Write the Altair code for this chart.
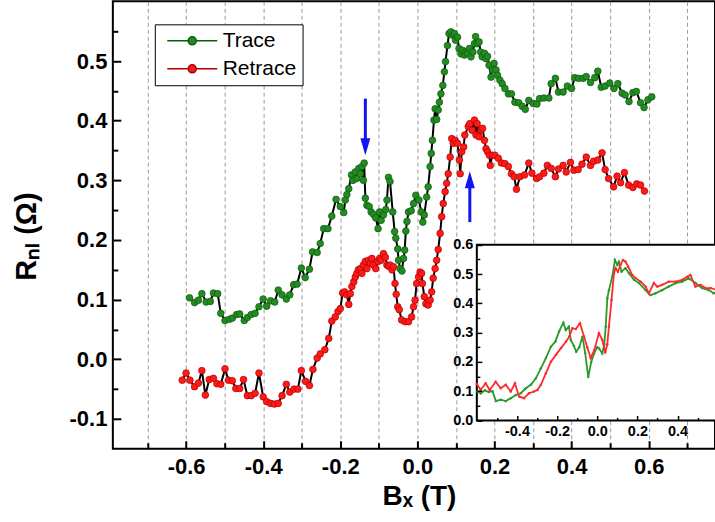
import altair as alt
import pandas as pd

# ---------------- data ----------------
series_names = ["Trace", "Retrace"]

trace_x = [-0.591, -0.578, -0.568, -0.559, -0.548, -0.537, -0.529, -0.518, -0.510, -0.499,
           -0.488, -0.480, -0.469, -0.461, -0.449, -0.441, -0.431, -0.421, -0.411, -0.400,
           -0.391, -0.381, -0.370, -0.361, -0.351, -0.340, -0.331, -0.321, -0.312, -0.301,
           -0.291, -0.280, -0.272, -0.260, -0.252, -0.243, -0.232, -0.222, -0.211, -0.200,
           -0.191, -0.187, -0.183, -0.178, -0.171, -0.167, -0.161, -0.157, -0.152, -0.148,
           -0.144, -0.140, -0.138, -0.135, -0.131, -0.125, -0.120, -0.114, -0.108, -0.102,
           -0.098, -0.094, -0.088, -0.082, -0.079, -0.075, -0.071, -0.064, -0.059, -0.056,
           -0.051, -0.049, -0.045, -0.040, -0.036, -0.033, -0.030, -0.027, -0.023, -0.016,
           -0.010, -0.004, 0.004, 0.010, 0.014, 0.018, 0.024, 0.028, 0.033, 0.036,
           0.039, 0.043, 0.046, 0.050, 0.054, 0.057, 0.061, 0.066, 0.070, 0.073,
           0.078, 0.082, 0.087, 0.092, 0.096, 0.099, 0.104, 0.108, 0.113, 0.117,
           0.122, 0.126, 0.130, 0.135, 0.139, 0.144, 0.148, 0.151, 0.155, 0.160,
           0.164, 0.168, 0.174, 0.178, 0.182, 0.186, 0.191, 0.195, 0.199, 0.204,
           0.208, 0.214, 0.220, 0.227, 0.236, 0.244, 0.253, 0.263, 0.272, 0.280,
           0.289, 0.300, 0.310, 0.317, 0.328, 0.341, 0.347, 0.358, 0.366, 0.378,
           0.389, 0.400, 0.408, 0.418, 0.430, 0.438, 0.449, 0.460, 0.468, 0.477,
           0.487, 0.499, 0.510, 0.520, 0.531, 0.539, 0.549, 0.559, 0.568, 0.579,
           0.588, 0.598, 0.608]
trace_y = [0.103, 0.095, 0.099, 0.110, 0.096, 0.097, 0.111, 0.110, 0.077, 0.065,
           0.067, 0.069, 0.075, 0.076, 0.065, 0.070, 0.075, 0.077, 0.088, 0.101,
           0.089, 0.098, 0.096, 0.116, 0.108, 0.101, 0.108, 0.125, 0.126, 0.153,
           0.137, 0.151, 0.180, 0.179, 0.194, 0.219, 0.219, 0.240, 0.268, 0.256,
           0.246, 0.267, 0.276, 0.286, 0.309, 0.300, 0.314, 0.303, 0.320, 0.311,
           0.323, 0.300, 0.329, 0.270, 0.258, 0.256, 0.247, 0.243, 0.237, 0.219,
           0.247, 0.233, 0.242, 0.251, 0.267, 0.305, 0.298, 0.247, 0.214, 0.203,
           0.185, 0.166, 0.152, 0.148, 0.169, 0.183, 0.215, 0.231, 0.247, 0.249,
           0.261, 0.275, 0.267, 0.247, 0.230, 0.242, 0.272, 0.289, 0.323, 0.345,
           0.367, 0.401, 0.420, 0.402, 0.418, 0.431, 0.445, 0.459, 0.482, 0.499,
           0.526, 0.546, 0.549, 0.543, 0.546, 0.535, 0.540, 0.521, 0.512, 0.518,
           0.510, 0.515, 0.513, 0.521, 0.507, 0.515, 0.529, 0.541, 0.529, 0.532,
           0.515, 0.507, 0.513, 0.504, 0.508, 0.493, 0.473, 0.485, 0.496, 0.485,
           0.476, 0.468, 0.462, 0.454, 0.445, 0.445, 0.431, 0.430, 0.424, 0.419,
           0.434, 0.429, 0.428, 0.437, 0.438, 0.438, 0.462, 0.471, 0.448, 0.448,
           0.458, 0.454, 0.472, 0.471, 0.471, 0.474, 0.464, 0.472, 0.483, 0.456,
           0.458, 0.463, 0.454, 0.462, 0.446, 0.443, 0.432, 0.447, 0.449, 0.430,
           0.422, 0.435, 0.440]

retrace_x = [-0.610, -0.600, -0.590, -0.578, -0.568, -0.559, -0.550, -0.540, -0.529, -0.520,
             -0.510, -0.499, -0.490, -0.480, -0.471, -0.461, -0.451, -0.441, -0.431, -0.421,
             -0.411, -0.400, -0.391, -0.381, -0.371, -0.361, -0.351, -0.340, -0.331, -0.320,
             -0.310, -0.301, -0.290, -0.280, -0.271, -0.260, -0.252, -0.240, -0.230, -0.222,
             -0.213, -0.206, -0.200, -0.194, -0.189, -0.183, -0.178, -0.174, -0.170, -0.165,
             -0.161, -0.157, -0.153, -0.148, -0.144, -0.140, -0.135, -0.131, -0.127, -0.122,
             -0.118, -0.114, -0.108, -0.102, -0.098, -0.094, -0.088, -0.083, -0.079, -0.075,
             -0.071, -0.066, -0.062, -0.058, -0.055, -0.051, -0.047, -0.041, -0.032, -0.023,
             -0.015, -0.010, -0.006, -0.002, 0.003, 0.007, 0.011, 0.013, 0.018, 0.022,
             0.028, 0.033, 0.037, 0.041, 0.046, 0.050, 0.054, 0.059, 0.063, 0.067,
             0.072, 0.076, 0.080, 0.085, 0.089, 0.093, 0.098, 0.104, 0.109, 0.111,
             0.115, 0.120, 0.123, 0.132, 0.136, 0.142, 0.148, 0.152, 0.155, 0.160,
             0.165, 0.169, 0.174, 0.178, 0.182, 0.187, 0.189, 0.194, 0.201, 0.210,
             0.218, 0.227, 0.236, 0.244, 0.251, 0.257, 0.266, 0.278, 0.289, 0.297,
             0.309, 0.317, 0.328, 0.337, 0.347, 0.358, 0.366, 0.378, 0.386, 0.397,
             0.406, 0.417, 0.427, 0.438, 0.449, 0.457, 0.468, 0.479, 0.487, 0.496,
             0.509, 0.518, 0.527, 0.537, 0.548, 0.559, 0.569, 0.579, 0.589]
retrace_y = [-0.035, -0.023, -0.035, -0.046, -0.040, -0.019, -0.060, -0.034, -0.032, -0.041,
             -0.042, -0.016, -0.035, -0.036, -0.049, -0.049, -0.034, -0.061, -0.061, -0.057,
             -0.023, -0.063, -0.071, -0.074, -0.075, -0.074, -0.061, -0.042, -0.055, -0.050,
             -0.050, -0.019, -0.037, -0.044, -0.017, 0.002, 0.009, 0.016, 0.035, 0.064,
             0.071, 0.080, 0.085, 0.111, 0.113, 0.108, 0.092, 0.110, 0.122, 0.130,
             0.138, 0.144, 0.150, 0.152, 0.144, 0.158, 0.164, 0.152, 0.166, 0.161,
             0.169, 0.158, 0.152, 0.164, 0.169, 0.166, 0.177, 0.171, 0.158, 0.156,
             0.158, 0.150, 0.155, 0.127, 0.109, 0.088, 0.083, 0.066, 0.063, 0.063,
             0.071, 0.088, 0.099, 0.127, 0.138, 0.146, 0.144, 0.127, 0.105, 0.093,
             0.091, 0.099, 0.113, 0.136, 0.152, 0.166, 0.184, 0.211, 0.239, 0.261,
             0.281, 0.295, 0.311, 0.339, 0.370, 0.362, 0.367, 0.362, 0.334, 0.311,
             0.348, 0.356, 0.376, 0.390, 0.395, 0.384, 0.401, 0.376, 0.395, 0.373,
             0.384, 0.387, 0.367, 0.353, 0.348, 0.342, 0.325, 0.342, 0.342, 0.337,
             0.329, 0.328, 0.323, 0.311, 0.306, 0.285, 0.306, 0.309, 0.329, 0.312,
             0.303, 0.306, 0.312, 0.325, 0.320, 0.306, 0.319, 0.325, 0.314, 0.330,
             0.317, 0.318, 0.327, 0.339, 0.325, 0.332, 0.334, 0.346, 0.318, 0.303,
             0.289, 0.307, 0.296, 0.313, 0.292, 0.288, 0.294, 0.292, 0.282]

inset_trace_x = [-0.597, -0.580, -0.560, -0.540, -0.522, -0.505, -0.481, -0.456, -0.431, -0.406,
                 -0.381, -0.356, -0.331, -0.306, -0.281, -0.256, -0.231, -0.209, -0.190, -0.169,
                 -0.157, -0.141, -0.132, -0.116, -0.105, -0.090, -0.074, -0.060, -0.045, -0.030,
                 -0.016, 0.000, 0.009, 0.025, 0.035, 0.042, 0.050, 0.058, 0.075, 0.088,
                 0.100, 0.108, 0.121, 0.141, 0.158, 0.183, 0.208, 0.241, 0.265, 0.290,
                 0.323, 0.356, 0.390, 0.423, 0.456, 0.489, 0.522, 0.556, 0.580, 0.600]
inset_trace_y = [0.099, 0.092, 0.103, 0.097, 0.100, 0.066, 0.071, 0.066, 0.076, 0.087,
                 0.093, 0.110, 0.122, 0.144, 0.178, 0.213, 0.252, 0.269, 0.304, 0.334,
                 0.309, 0.320, 0.275, 0.254, 0.235, 0.250, 0.286, 0.230, 0.148, 0.200,
                 0.229, 0.250, 0.246, 0.229, 0.260, 0.320, 0.417, 0.445, 0.491, 0.548,
                 0.531, 0.542, 0.508, 0.520, 0.503, 0.480, 0.469, 0.445, 0.428, 0.434,
                 0.445, 0.457, 0.469, 0.474, 0.485, 0.469, 0.452, 0.445, 0.434, 0.440]

inset_retrace_x = [-0.600, -0.581, -0.556, -0.536, -0.506, -0.481, -0.456, -0.431, -0.410, -0.390,
                   -0.365, -0.340, -0.315, -0.298, -0.281, -0.256, -0.231, -0.206, -0.181, -0.156,
                   -0.139, -0.124, -0.107, -0.086, -0.066, -0.050, -0.033, -0.015, 0.008, 0.025,
                   0.040, 0.050, 0.058, 0.071, 0.083, 0.091, 0.103, 0.116, 0.128, 0.141,
                   0.154, 0.174, 0.191, 0.216, 0.241, 0.257, 0.282, 0.299, 0.323, 0.356,
                   0.390, 0.423, 0.448, 0.464, 0.489, 0.514, 0.539, 0.564, 0.600]
inset_retrace_y = [0.125, 0.104, 0.127, 0.104, 0.132, 0.110, 0.122, 0.099, 0.127, 0.082,
                   0.076, 0.093, 0.099, 0.104, 0.122, 0.161, 0.201, 0.224, 0.247, 0.269,
                   0.287, 0.315, 0.312, 0.332, 0.287, 0.250, 0.213, 0.240, 0.298, 0.275,
                   0.232, 0.260, 0.320, 0.411, 0.502, 0.520, 0.508, 0.531, 0.548, 0.542,
                   0.525, 0.497, 0.486, 0.474, 0.457, 0.434, 0.469, 0.457, 0.463, 0.474,
                   0.474, 0.480, 0.491, 0.497, 0.457, 0.463, 0.452, 0.452, 0.445]

arrow_x = [-0.135, 0.136]
arrow_tail = [0.437, 0.230]
arrow_tip = [0.342, 0.315]
arrow_dir = ["down", "up"]

# axis tick / grid values
x_grid_values = [-0.7, -0.6, -0.5, -0.4, -0.3, -0.2, -0.1, 0.0, 0.1, 0.2, 0.3, 0.4, 0.5, 0.6, 0.7]
x_major_ticks = [-0.6, -0.4, -0.2, 0.0, 0.2, 0.4, 0.6]
x_minor_ticks = [-0.7, -0.5, -0.3, -0.1, 0.1, 0.3, 0.5, 0.7]
y_major_ticks = [-0.1, 0.0, 0.1, 0.2, 0.3, 0.4, 0.5]
y_minor_ticks = [-0.05, 0.05, 0.15, 0.25, 0.35, 0.45, 0.55]
inset_x_domain = [-0.6, 0.6]
inset_y_domain = [0.0, 0.6]
inset_x_major = [-0.4, -0.2, 0.0, 0.2, 0.4]
inset_x_minor = [-0.5, -0.3, -0.1, 0.1, 0.3, 0.5]
inset_y_major = [0.0, 0.1, 0.2, 0.3, 0.4, 0.5, 0.6]
inset_y_minor = [0.05, 0.15, 0.25, 0.35, 0.45, 0.55]

# ---------------- tables ----------------
df_main = pd.concat([
    pd.DataFrame({"x": trace_x, "y": trace_y, "series": series_names[0],
                  "order": range(len(trace_x))}),
    pd.DataFrame({"x": retrace_x, "y": retrace_y, "series": series_names[1],
                  "order": range(len(retrace_x))}),
])
df_in_trace = pd.DataFrame({"x": inset_trace_x, "y": inset_trace_y, "order": range(len(inset_trace_x))})
df_in_retrace = pd.DataFrame({"x": inset_retrace_x, "y": inset_retrace_y, "order": range(len(inset_retrace_x))})
df_arrows = pd.DataFrame({"x": arrow_x, "tail": arrow_tail, "tip": arrow_tip, "dir": arrow_dir})
df_arrows["shaft_end"] = [t + (0.02 if a > t else -0.02) for a, t in zip(arrow_tail, arrow_tip)]
df_box = pd.DataFrame({"x0": [inset_x_domain[0]], "x1": [inset_x_domain[1]],
                       "y0": [inset_y_domain[0]], "y1": [inset_y_domain[1]]})

# ---------------- styling ----------------
FONT = "Liberation Sans"
GREEN = "#228b22"
RED = "#ff1a1a"
BLUE = "#1414f0"
W, H = 603, 448
fmt_minus = "replace(format(datum.value, '.1f'), '\u2212', '-')"
even_only = "abs(round(datum.value * 10)) % 2 == 0 ? " + fmt_minus + " : ''"

xm = alt.Scale(domain=[-0.79, 0.772], nice=False, zero=False)
ym = alt.Scale(domain=[-0.15, 0.6], nice=False, zero=False)
xi = alt.Scale(domain=inset_x_domain, range=[364.5, 605.7], nice=False, zero=False)
yi = alt.Scale(domain=inset_y_domain, range=[419.7, 243.7], nice=False, zero=False)


def tick_axis(orient, values, size, offset, width=2):
    return alt.Axis(orient=orient, values=values, labels=False, domain=False, grid=False,
                    ticks=True, tickSize=size, tickWidth=width, tickColor="black",
                    offset=offset, zindex=1, title=None)


# main x axis with labels and dashed grid
x_main_axis = alt.Axis(orient="bottom", values=x_grid_values, labelExpr=even_only,
                       grid=True, gridDash=[4, 3], gridColor="#9a9a9a", gridWidth=1,
                       ticks=False, tickSize=0, domain=False, labelOverlap=False, labelFlush=False,
                       labelFontSize=22, labelPadding=8,
                       title="B\u2093 (T)", titleFontSize=28, titleX=306.5, titleY=56,
                       titleAlign="center", titleBaseline="alphabetic", titleAnchor="start")
y_main_axis = alt.Axis(orient="left", values=y_major_ticks, labelExpr=fmt_minus,
                       grid=False, ticks=False, tickSize=0, domain=False, labelOverlap=False,
                       labelFlush=False, labelFontSize=22, labelPadding=6,
                       title="R\u2099\u2097 (\u03a9)", titleFontSize=29, titleAngle=270,
                       titleX=-86, titleY=235, titleAlign="center", titleBaseline="middle",
                       titleAnchor="start")

legend_path = "M-5,0H-0.8M0.8,0H5M0.8,0A0.8,0.8,0,1,1,-0.8,0A0.8,0.8,0,1,1,0.8,0Z"

lines = alt.Chart(df_main).mark_line(color="black", strokeWidth=2).encode(
    x=alt.X("x:Q", scale=xm, axis=x_main_axis),
    y=alt.Y("y:Q", scale=ym, axis=y_main_axis),
    detail="series:N",
    order="order:Q",
)

points = alt.Chart(df_main).mark_point(filled=True, size=45, opacity=1, strokeWidth=0.7).encode(
    x=alt.X("x:Q", scale=xm, axis=tick_axis("bottom", x_major_ticks, 8, -8)),
    y=alt.Y("y:Q", scale=ym, axis=tick_axis("left", y_major_ticks, 8, -8)),
    color=alt.Color("series:N", scale=alt.Scale(domain=series_names, range=[GREEN, RED]),
                    legend=alt.Legend(title=None, orient="none", legendX=42, legendY=23,
                                      direction="vertical", symbolType=legend_path,
                                      symbolSize=100, symbolStrokeColor="black",
                                      symbolStrokeWidth=1.6, symbolOffset=21, labelOffset=20,
                                      labelExpr="datum.label + '\u00a0\u00a0\u00a0'",
                                      labelFont=FONT, labelFontSize=21, labelColor="black",
                                      padding=6, rowPadding=6, strokeColor="black",
                                      fillColor="white")),
    stroke=alt.Stroke("series:N", scale=alt.Scale(domain=series_names,
                                                  range=["#0e5a0e", "#b00000"]), legend=None),
)

shafts = alt.Chart(df_arrows).mark_rule(color=BLUE, strokeWidth=3).encode(
    x=alt.X("x:Q", scale=xm, axis=tick_axis("bottom", x_minor_ticks, 6, -6)),
    y=alt.Y("tail:Q", scale=ym, axis=tick_axis("left", y_minor_ticks, 5, -5)),
    y2="shaft_end:Q",
)

heads = alt.Chart(df_arrows).mark_point(filled=True, size=100, opacity=1, color=BLUE,
                                         strokeWidth=0).encode(
    x=alt.X("x:Q", scale=xm, axis=None),
    y=alt.Y("tip:Q", scale=ym, axis=None),
    shape=alt.Shape("dir:N", scale=alt.Scale(domain=["down", "up"],
                                             range=["M-1,-3.4L1,-3.4L0,0Z", "M-1,3.4L1,3.4L0,0Z"]),
                    legend=None),
)

main = alt.layer(lines, points, shafts, heads).resolve_axis(x="independent", y="independent")

# ---------------- inset ----------------
IN_LEFT = -364.5
IN_BOTTOM = -(H - 419.7)

box = alt.Chart(df_box).mark_rect(fill="white", stroke="black", strokeWidth=2).encode(
    x=alt.X("x0:Q", scale=xi,
            axis=alt.Axis(orient="bottom", values=inset_x_major, labelExpr=fmt_minus,
                          offset=IN_BOTTOM, grid=False, ticks=False, tickSize=0, domain=False,
                          labelOverlap=False, labelFlush=False, labelFontSize=14.5,
                          labelPadding=4, title=None)),
    x2="x1:Q",
    y=alt.Y("y0:Q", scale=yi,
            axis=alt.Axis(orient="left", values=inset_y_major, labelExpr=fmt_minus,
                          offset=IN_LEFT, grid=False, ticks=False, tickSize=0, domain=False,
                          labelOverlap=False, labelFlush=False, labelFontSize=14.5,
                          labelPadding=4, title=None)),
    y2="y1:Q",
)

in_trace = alt.Chart(df_in_trace).mark_line(
    color="#2a9a2a", strokeWidth=1.8,
    point=alt.OverlayMarkDef(filled=True, size=6, color="#2a9a2a")).encode(
    x=alt.X("x:Q", scale=xi, axis=tick_axis("bottom", inset_x_major, 5, IN_BOTTOM - 5, 1.5)),
    y=alt.Y("y:Q", scale=yi, axis=tick_axis("left", inset_y_major, 5, IN_LEFT - 5, 1.5)),
    order="order:Q",
)

in_retrace = alt.Chart(df_in_retrace).mark_line(
    color="#ff2a2a", strokeWidth=1.8,
    point=alt.OverlayMarkDef(filled=True, size=6, color="#ff2a2a")).encode(
    x=alt.X("x:Q", scale=xi, axis=tick_axis("bottom", inset_x_minor, 3, IN_BOTTOM - 3, 1.5)),
    y=alt.Y("y:Q", scale=yi, axis=tick_axis("left", inset_y_minor, 3, IN_LEFT - 3, 1.5)),
    order="order:Q",
)

inset = alt.layer(box, in_trace, in_retrace).resolve_axis(x="independent", y="independent")

chart = alt.layer(main, inset).resolve_scale(
    x="independent", y="independent"
).resolve_axis(
    x="independent", y="independent"
).properties(
    width=W, height=H,
    autosize=alt.AutoSizeParams(type="none"),
    padding={"left": 113, "top": 1, "right": 0, "bottom": 73},
).configure_view(
    stroke="black", strokeWidth=2
).configure_axis(
    labelFont=FONT, titleFont=FONT, labelColor="black", titleColor="black",
    labelFontWeight="bold", titleFontWeight="bold"
)

chart.save("out.html", embed_options={"renderer": "svg", "actions": False})
